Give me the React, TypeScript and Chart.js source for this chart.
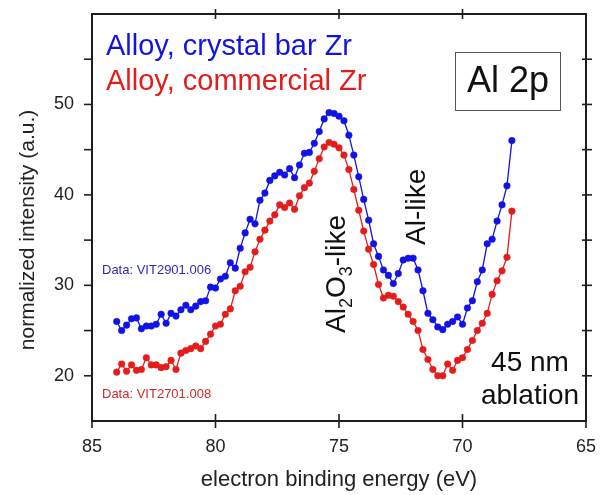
import React, { useEffect, useRef } from "react";
import { Chart, registerables } from "chart.js";
Chart.register(...registerables);

// electron binding energy (eV), one entry per measured point
const energies = [
  84.0, 83.8, 83.6, 83.4, 83.2, 83.0, 82.8, 82.6, 82.4, 82.2,
  82.0, 81.8, 81.6, 81.4, 81.2, 81.0, 80.8, 80.6, 80.4, 80.2,
  80.0, 79.8, 79.6, 79.4, 79.2, 79.0, 78.8, 78.6, 78.4, 78.2,
  78.0, 77.8, 77.6, 77.4, 77.2, 77.0, 76.8, 76.6, 76.4, 76.2,
  76.0, 75.8, 75.6, 75.4, 75.2, 75.0, 74.8, 74.6, 74.4, 74.2,
  74.0, 73.8, 73.6, 73.4, 73.2, 73.0, 72.8, 72.6, 72.4, 72.2,
  72.0, 71.8, 71.6, 71.4, 71.2, 71.0, 70.8, 70.6, 70.4, 70.2,
  70.0, 69.8, 69.6, 69.4, 69.2, 69.0, 68.8, 68.6, 68.4, 68.2,
  68.0,
];

// Alloy, crystal bar Zr (VIT2901.006)
const crystalBar = [
  26.0, 25.0, 25.6, 26.3, 26.4, 25.2, 25.5, 25.5, 25.7, 26.8,
  25.8, 26.9, 26.6, 27.3, 27.8, 27.3, 27.7, 28.2, 28.3, 29.8,
  29.7, 30.7, 31.0, 32.5, 31.9, 34.1, 35.8, 37.3, 36.8, 39.4,
  40.2, 41.6, 42.1, 42.5, 42.2, 42.9, 41.9, 43.3, 44.6, 44.7,
  45.7, 47.0, 48.4, 49.1, 49.0, 48.7, 48.2, 46.6, 44.4, 42.0,
  39.5, 37.2, 34.6, 33.2, 31.7, 31.1, 30.2, 31.3, 32.8, 33.0,
  33.0, 31.7, 29.4, 26.9, 26.2, 25.4, 25.1, 25.7, 26.0, 26.5,
  25.7, 27.5, 28.3, 30.4, 31.7, 34.6, 35.1, 37.1, 38.9, 41.0,
  46.0,
];

// Alloy, commercial Zr (VIT2701.008)
const commercial = [
  20.4, 21.3, 20.5, 21.2, 20.6, 20.7, 22.0, 21.2, 21.2, 20.9,
  21.0, 21.7, 20.7, 22.5, 22.8, 23.0, 23.3, 23.0, 23.8, 24.6,
  25.5, 25.7, 26.8, 27.4, 29.4, 29.9, 31.5, 32.0, 33.7, 35.1,
  36.1, 37.1, 37.8, 38.9, 38.6, 39.1, 38.4, 39.9, 40.8, 41.3,
  42.6, 44.0, 45.3, 45.8, 45.6, 45.2, 44.4, 42.8, 40.6, 38.3,
  36.0, 34.0, 32.3, 30.1, 28.6, 28.9, 28.8, 28.2, 27.6, 26.8,
  26.0, 25.0, 22.9, 21.8, 20.7, 20.0, 20.0, 21.3, 20.6, 21.7,
  22.0, 22.9, 23.9, 25.0, 25.8, 26.9, 29.0, 30.5, 31.6, 33.1,
  38.2,
];

const xTickValues = [85, 80, 75, 70, 65];
const yTickValues = [20, 25, 30, 35, 40, 45, 50, 55];
const yLabelled = [20, 30, 40, 50];

const seriesNames = ["Alloy, crystal bar Zr", "Alloy, commercial Zr"];
const dataNames = ["Data: VIT2901.006", "Data: VIT2701.008"];
const yTitle = "normalized intensity (a.u.)";

const BLUE = "#1212e6";
const RED = "#e41c1c";
const FONT = "'Liberation Sans', Arial, sans-serif";

const frame = {
  id: "frame",
  afterDraw(chart: any) {
    const { ctx, chartArea: a, scales } = chart;
    const x = scales.x;
    const y = scales.y;
    ctx.save();
    const line = (x1: number, y1: number, x2: number, y2: number) => {
      ctx.beginPath();
      ctx.moveTo(x1, y1);
      ctx.lineTo(x2, y2);
      ctx.stroke();
    };
    ctx.strokeStyle = "#1e1e1e";
    ctx.lineWidth = 2;
    ctx.strokeRect(a.left, a.top, a.right - a.left, a.bottom - a.top);
    ctx.lineWidth = 1.6;
    xTickValues.forEach((v) => {
      const px = x.getPixelForValue(v);
      line(px, a.bottom - 7, px, a.bottom + 7);
      if (v !== 85 && v !== 65) line(px, a.top - 5, px, a.top + 5);
    });
    yTickValues.forEach((v) => {
      const py = y.getPixelForValue(v);
      line(a.left - 8, py, a.left, py);
      line(a.right - 4, py, a.right + 6, py);
    });

    // y axis title
    ctx.save();
    ctx.translate(28, 230);
    ctx.rotate(-Math.PI / 2);
    ctx.textAlign = "center";
    ctx.textBaseline = "middle";
    ctx.fillStyle = "#222";
    ctx.font = `21px ${FONT}`;
    ctx.fillText(yTitle, 0, 0);
    ctx.restore();

    // series labels
    ctx.textBaseline = "middle";
    ctx.textAlign = "left";
    ctx.font = `29px ${FONT}`;
    ctx.fillStyle = BLUE;
    ctx.fillText(seriesNames[0], 106, 47);
    ctx.fillStyle = RED;
    ctx.fillText(seriesNames[1], 106, 82);

    // Al 2p box
    ctx.lineWidth = 1;
    ctx.strokeStyle = "#555";
    ctx.strokeRect(455.5, 52.5, 105, 58);
    ctx.fillStyle = "#111";
    ctx.font = `36px ${FONT}`;
    ctx.textAlign = "center";
    ctx.fillText("Al 2p", 508, 82);

    // data file notes
    ctx.textAlign = "left";
    ctx.font = `13px ${FONT}`;
    ctx.fillStyle = "#2c2cae";
    ctx.fillText(dataNames[0], 102, 270);
    ctx.fillStyle = "#cc2a2a";
    ctx.fillText(dataNames[1], 102, 394);

    // 45 nm ablation
    ctx.fillStyle = "#111";
    ctx.font = `28px ${FONT}`;
    ctx.textAlign = "center";
    ctx.fillText("45 nm", 530, 363);
    ctx.fillText("ablation", 530, 396);

    // rotated peak labels
    ctx.textAlign = "left";
    ctx.textBaseline = "alphabetic";
    ctx.save();
    ctx.translate(345, 333);
    ctx.rotate(-Math.PI / 2);
    let cx = 0;
    const big = `28px ${FONT}`;
    const small = `18px ${FONT}`;
    const parts: [string, boolean][] = [["Al", false], ["2", true], ["O", false], ["3", true], ["-like", false]];
    parts.forEach(([t, sub]) => {
      ctx.font = sub ? small : big;
      ctx.fillText(t, cx, sub ? 7 : 0);
      cx += ctx.measureText(t).width;
    });
    ctx.restore();
    ctx.save();
    ctx.translate(425, 245);
    ctx.rotate(-Math.PI / 2);
    ctx.font = big;
    ctx.fillText("Al-like", 0, 0);
    ctx.restore();

    ctx.restore();
  },
};

export default function App() {
  const ref = useRef<HTMLCanvasElement | null>(null);
  useEffect(() => {
    const canvas = ref.current;
    if (!canvas) return;
    const mk = (vals: number[]) => energies.map((e, i) => ({ x: e, y: vals[i] }));
    const ds = (label: string, vals: number[], color: string) => ({
      label,
      data: mk(vals),
      borderColor: color,
      backgroundColor: color,
      pointBackgroundColor: color,
      pointBorderColor: color,
      pointBorderWidth: 0.5,
      pointRadius: 3.3,
      borderWidth: 1.3,
      tension: 0,
    });
    const chart = new Chart(canvas, {
      type: "line",
      data: {
        datasets: [ds(seriesNames[0], crystalBar, BLUE), ds(seriesNames[1], commercial, RED)],
      },
      options: {
        responsive: false,
        animation: false,
        devicePixelRatio: 1,
        layout: { padding: { top: 14, right: 17, left: 0, bottom: 0 } },
        plugins: { legend: { display: false }, tooltip: { enabled: false } },
        scales: {
          x: {
            type: "linear",
            reverse: true,
            min: 65,
            max: 85,
            grid: { display: false },
            border: { display: false },
            ticks: {
              stepSize: 5,
              color: "#222",
              font: { family: FONT, size: 18 },
              padding: 7,
              maxRotation: 0,
            },
            title: {
              display: true,
              text: "electron binding energy (eV)",
              color: "#222",
              font: { family: FONT, size: 22 },
              padding: { top: 0, bottom: 2 },
            },
            afterFit: (s: any) => {
              s.height = 74;
              s.paddingLeft = 0;
              s.paddingRight = 0;
            },
          },
          y: {
            type: "linear",
            min: 15,
            max: 60,
            grid: { display: false },
            border: { display: false },
            ticks: {
              stepSize: 5,
              color: "#222",
              font: { family: FONT, size: 18 },
              padding: 10,
              callback: (v: any) => (yLabelled.includes(Number(v)) ? String(v) : ""),
            },
            title: { display: false },
            afterFit: (s: any) => {
              s.width = 92;
              s.paddingTop = 0;
              s.paddingBottom = 0;
            },
          },
        },
      },
      plugins: [frame],
    });
    return () => chart.destroy();
  }, []);
  return (
    <div style={{ position: "fixed", left: 0, top: 0, width: 603, height: 495, background: "#fff" }}>
      <canvas ref={ref} width={603} height={495} style={{ display: "block" }} />
    </div>
  );
}
